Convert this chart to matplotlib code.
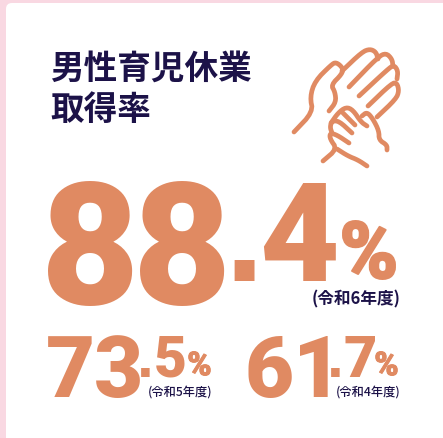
import matplotlib
matplotlib.use("Agg")
import matplotlib.pyplot as plt
from matplotlib.patches import FancyBboxPatch
from matplotlib.textpath import TextPath
from matplotlib.font_manager import FontProperties
import matplotlib.patheffects as pe
import numpy as np

title_lines = ["男性育児休業", "取得率"]
values = [88.4, 73.5, 61.7]
year_labels = ["(令和6年度)", "(令和5年度)", "(令和4年度)"]

ORANGE = "#e08a62"
NAVY = "#1c1248"
PINK = "#f9d8e2"
CJK = ["Noto Sans CJK JP", "DejaVu Sans"]
FP = FontProperties(family="Roboto", weight="black")
FP_DOT = FontProperties(family="Liberation Sans", weight="bold")

fig = plt.figure(figsize=(4.43, 4.39), dpi=100, facecolor=PINK)
ax = fig.add_axes([0, 0, 1, 1])
ax.set_xlim(0, 443)
ax.set_ylim(439, 0)
ax.axis("off")

ax.add_patch(FancyBboxPatch((6, 4), 470, 470, boxstyle="round,pad=0,rounding_size=6",
                            fc="white", ec="none"))

for line, y in zip(title_lines, [79, 120]):
    ax.text(50, y, line, family=CJK, fontweight="bold", fontsize=24.2, color=NAVY,
            ha="left", va="baseline")


def num(s, x0, x1, y0, y1, stroke, fp=FP):
    """Draw s so that its ink is centred on x0..x1 and fills y0..y1 (pixels)."""
    ext = TextPath((0, 0), s, size=100, prop=fp).get_extents()
    h_px = (y1 - y0) - stroke
    scale = h_px / ext.height
    size_px = 100 * scale
    xc = (x0 + x1) / 2 - (ext.x0 + ext.x1) / 2 * scale
    base = y1 - stroke / 2 + ext.y0 * scale
    effects = [pe.withStroke(linewidth=stroke * 0.72, foreground=ORANGE)] if stroke else None
    ax.text(xc, base, s, fontproperties=fp, fontsize=size_px * 0.72, color=ORANGE,
            ha="left", va="baseline", path_effects=effects)


def split(v):
    return f"{v:.1f}".split(".")


# main value
a, b = split(values[0])
num(a[0], 52, 129, 182, 306, 0)
num(a[1], 143, 221.5, 182, 306, 0)
num(".", 233, 254, 260, 281, 0, FP_DOT)
num(b, 266, 332, 183, 281, 0)
num("%", 339, 399, 221, 281, 2)
ax.text(401, 304, year_labels[0], family=CJK, fontweight="bold", fontsize=12, color=NAVY,
        ha="right", va="baseline")

# secondary values
layout = [((52, 137), (141, 150), (157, 183), (187, 212), 213),
          ((254, 322), (331, 340), (346, 373), (374, 399), 400.5)]
for v, lab, (xi, xd, xb, xp, xl) in zip(values[1:], year_labels[1:], layout):
    a, b = split(v)
    num(a, xi[0], xi[1], 336, 398, 0)
    num(".", xd[0], xd[1], 368, 377, 0, FP_DOT)
    num(b, xb[0], xb[1], 336, 377, 0)
    num("%", xp[0], xp[1], 352, 377, 1)
    ax.text(xl, 395.5, lab, family=CJK, fontweight="medium", fontsize=8.8, color=NAVY,
            ha="right", va="baseline")


def smooth(p, n=2):
    p = np.asarray(p, float)
    for _ in range(n):
        q = [p[0]]
        for i in range(len(p) - 1):
            q += [0.75 * p[i] + 0.25 * p[i + 1], 0.25 * p[i] + 0.75 * p[i + 1]]
        q.append(p[-1])
        p = np.array(q)
    return p


icon = [
    [(294, 133), (313, 113), (310, 98), (315, 82), (331, 66), (336, 63), (343, 69), (342, 75),
     (331, 86), (335, 93), (336, 103), (329, 112)],
    [(342, 72), (362, 53), (370, 50), (376, 53), (378, 60)],
    [(349, 88), (378, 58), (386, 54), (392, 60), (393, 67)],
    [(359, 97), (388, 70), (394, 66), (398, 72), (397, 80)],
    [(368, 107), (392, 84), (397, 84), (399, 92), (396, 100), (377, 118)],
    [(323, 162), (337, 150), (330, 140), (330, 134), (337, 136), (349, 144)],
    [(332, 134), (330, 128), (332, 122), (339, 122), (352, 134)],
    [(331, 124), (338, 114), (346, 108), (353, 111), (361, 123), (367, 127)],
    [(343, 114), (355, 126)],
    [(362, 117), (367, 113), (373, 120), (379, 132), (379, 141), (387, 146), (387, 151)],
    [(337, 150), (348, 157), (358, 161), (367, 167)],
]
for seg in icon:
    p = smooth(seg)
    ax.plot(p[:, 0], p[:, 1], color=ORANGE, lw=3.4, solid_capstyle="round", solid_joinstyle="round")

fig.savefig("out.png", dpi=100, facecolor=PINK)
